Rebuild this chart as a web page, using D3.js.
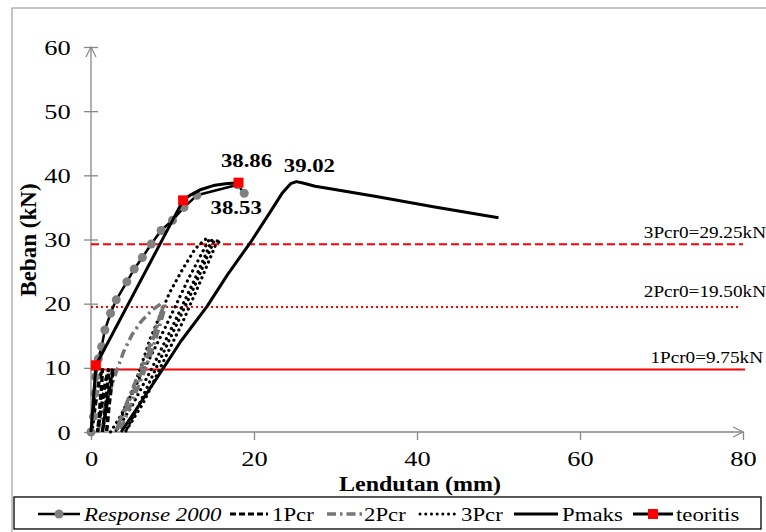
<!DOCTYPE html>
<html>
<head>
<meta charset="utf-8">
<script src="https://cdn.jsdelivr.net/npm/d3@7/dist/d3.min.js"></script>
<style>
html,body{margin:0;padding:0;background:#fff;}
svg{display:block;}
svg text{font-family:'Liberation Serif','Times New Roman',serif;}
</style>
</head>
<body>
<svg id="chart" width="766" height="532"></svg>
<script>
// ---------- data ----------
const xTicks = [0, 20, 40, 60, 80];
const yTicks = [0, 10, 20, 30, 40, 50, 60];
const xTitle = "Lendutan (mm)";
const yTitle = "Beban (kN)";

const response2000 = [[0,0],[0.3,2.4],[0.45,6],[0.55,8.6],[0.9,11.4],[1.3,13.3],[1.7,15.9],[2.4,18.5],[3.1,20.6],[4.4,23.4],[5.3,25.4],[6.3,27.2],[7.4,29.3],[8.6,31.4],[10,33],[11.4,35],[13,36.9],[18,38.53],[18.8,37.2]];
const pcr1 = [[0.1,0],[0.5,4],[1.0,8],[1.4,9.9],[1.3,7],[1.1,4],[0.9,1],[0.8,0],[1.3,4],[1.8,8],[2.2,9.9],[2.0,7],[1.8,4],[1.5,1],[1.4,0],[1.9,4],[2.4,8],[2.7,9.9],[2.5,7],[2.2,4],[2.0,1],[1.9,0]];
const pcr2 = [[0.8,0],[2,5],[3,9],[4,12.5],[5,15.1],[6.2,17.3],[7.5,19],[8.6,20],[8.8,19.6],[8.0,16],[7,12],[5.8,8],[4.4,4],[3.0,0],[4.2,4],[5.5,8],[6.8,12],[7.9,16],[9.0,20],[9.1,19.5],[8.3,16],[7.3,12],[6.1,8],[4.8,4],[3.5,0]];
const pcr3 = [[2.4,0],[3.6,2.4],[4.8,5.5],[6,9.7],[7.2,14.3],[8.4,18],[9.6,21.6],[11.3,25.5],[12.8,28.6],[14.2,30.2],
              [14.5,30],[12,24],[9,16],[6.6,10],[4.6,5],[3.0,0],
              [5,4],[7.5,10],[10.2,17],[12.8,24],[14.9,30.1],
              [15.1,29.8],[12.8,23],[10.6,17],[8.0,10],[5.8,4],[4.2,0],
              [6.4,4.5],[8.5,10],[11.2,17],[13.6,24],[15.6,30.1],[15.7,29.5],[15.3,29.3]];
const pmaks = [[3.7,0],[6,4.4],[8.9,10],[11,14.1],[14.2,19.5],[16.8,24.6],[19.7,29.8],[22,34.3],[23.5,37.3],[24.5,38.7],[25.2,39.02],[26,38.8],[27.5,38.3],[29,38],[35,36.7],[42,35.1],[50,33.4]];
const teoritisLine = [[0,0],[0.6,10.4],[11.3,36.1],[12.3,37.0],[13.5,37.8],[15,38.4],[16.5,38.7],[18.1,38.86]];
const teoritisPoints = [[0.6,10.4],[11.3,36.1],[18.1,38.86]];

const refValues = [9.75, 19.5, 29.25];
const refLabels = ["1Pcr0=9.75kN", "2Pcr0=19.50kN", "3Pcr0=29.25kN"];

const peakLabels = ["38.86", "39.02", "38.53"];
const peakPoints = [[18.1,38.86],[25.2,39.02],[18.8,37.2]];

const legendNames = ["Response 2000", "1Pcr", "2Pcr", "3Pcr", "Pmaks", "teoritis"];

// ---------- drawing ----------
const FONT = "'Liberation Serif', 'Times New Roman', serif";
const SX = 1.2; // horizontal stretch of the reference's text
const svg = d3.select("#chart");
const x = d3.scaleLinear().domain([0, 80]).range([91, 743]);
const y = d3.scaleLinear().domain([0, 60]).range([432, 47]);
const axisColor = "#878787";

function label(parent, px, py, txt, size, opts = {}) {
  const t = parent.append("text")
    .attr("transform", `translate(${px},${py}) scale(${SX},1)`)
    .attr("text-anchor", opts.anchor || "start")
    .style("font-family", FONT).style("font-size", size + "px").attr("fill", "#000")
    .text(txt);
  if (opts.bold) t.style("font-weight", "bold");
  if (opts.italic) t.style("font-style", "italic");
  return t;
}

// outer frame
svg.append("rect").attr("x", 12).attr("y", 8).attr("width", 770).attr("height", 540)
  .attr("fill", "none").attr("stroke", "#8c8c8c").attr("stroke-width", 1);

const defs = svg.append("defs");
defs.append("marker").attr("id", "arrow").attr("viewBox", "0 0 12 12")
  .attr("refX", 11).attr("refY", 6).attr("markerWidth", 12).attr("markerHeight", 12)
  .attr("markerUnits", "userSpaceOnUse").attr("orient", "auto")
  .append("path").attr("d", "M1,1 L11,6 L1,11").attr("fill", "none")
  .attr("stroke", axisColor).attr("stroke-width", 1.2);

// axes
const gx = svg.append("g").attr("transform", `translate(0,${y(0)})`)
  .call(d3.axisBottom(x).tickValues(xTicks).tickSize(8).tickSizeOuter(0).tickPadding(10));
const gy = svg.append("g").attr("transform", `translate(${x(0)},0)`)
  .call(d3.axisLeft(y).tickValues(yTicks).tickSize(7).tickSizeOuter(0).tickPadding(10));
[gx, gy].forEach(g => {
  g.attr("font-family", FONT).attr("font-size", 22);
  g.select(".domain").attr("stroke", axisColor).attr("stroke-width", 1.3).attr("marker-end", "url(#arrow)");
  g.selectAll(".tick line").attr("stroke", axisColor).attr("stroke-width", 1.3);
  g.selectAll(".tick text").attr("fill", "#000").style("font-family", FONT).style("font-size", "22px")
    .attr("transform", `scale(${SX},1)`);
});
gy.selectAll(".tick line").attr("x1", 7);
gx.select(".domain").attr("d", `M${x(0)},0H${x(80)}`);
gy.select(".domain").attr("d", `M0,${y(0)}V${y(60)}`);

// axis titles
label(svg, 420, 491, xTitle, 20, {anchor: "middle", bold: true});
svg.append("text").attr("transform", `translate(36,240) rotate(-90)`).attr("text-anchor", "middle")
  .style("font-family", FONT).style("font-size", "23px").style("font-weight", "bold").text(yTitle);

// reference lines
const refDash = ["none", "2,3", "8,4"];
const refEnd = [745, 740, 743];
const refGap = [6, 10, 6];
refValues.forEach((v, i) => {
  svg.append("line").attr("x1", x(0)).attr("x2", refEnd[i])
    .attr("y1", y(v)).attr("y2", y(v)).attr("stroke", "#ff0000")
    .attr("stroke-width", 2).attr("stroke-dasharray", refDash[i]);
  label(svg, i === 0 ? 763 : 766, y(v) - refGap[i], refLabels[i], 16, {anchor: "end"});
});

const line = d3.line().x(d => x(d[0])).y(d => y(d[1]));

// series
svg.append("path").attr("d", line(pcr3)).attr("fill", "none").attr("stroke", "#000")
  .attr("stroke-width", 3.2).attr("stroke-linecap", "round").attr("stroke-dasharray", "0.1,5.6");
svg.append("path").attr("d", line(pcr2)).attr("fill", "none").attr("stroke", "#767676")
  .attr("stroke-width", 3.5).attr("stroke-dasharray", "9,4,2.5,4");
svg.append("path").attr("d", line(pcr1)).attr("fill", "none").attr("stroke", "#000")
  .attr("stroke-width", 3.5).attr("stroke-dasharray", "6,3");
svg.append("path").attr("d", line(pmaks)).attr("fill", "none").attr("stroke", "#000")
  .attr("stroke-width", 3).attr("stroke-linejoin", "round");
svg.append("path").attr("d", line(response2000)).attr("fill", "none").attr("stroke", "#000")
  .attr("stroke-width", 2.5).attr("stroke-linejoin", "round");
svg.selectAll("circle.resp").data(response2000).enter().append("circle")
  .attr("cx", d => x(d[0])).attr("cy", d => y(d[1])).attr("r", 4.5).attr("fill", "#808080");
svg.append("path").attr("d", line(teoritisLine)).attr("fill", "none").attr("stroke", "#000")
  .attr("stroke-width", 3).attr("stroke-linejoin", "round");
svg.selectAll("rect.teo").data(teoritisPoints).enter().append("rect")
  .attr("x", d => x(d[0]) - 5).attr("y", d => y(d[1]) - 5).attr("width", 10).attr("height", 10)
  .attr("fill", "#ff0000");

// peak labels
const labelOffsets = [[8, -16], [13, -10], [-8, 21]];
peakLabels.forEach((t, i) => {
  label(svg, x(peakPoints[i][0]) + labelOffsets[i][0], y(peakPoints[i][1]) + labelOffsets[i][1],
    t, 19, {anchor: "middle", bold: true});
});

// legend
const lg = svg.append("g");
lg.append("rect").attr("x", 14).attr("y", 497).attr("width", 747).attr("height", 32)
  .attr("fill", "#fff").attr("stroke", "#000").attr("stroke-width", 1.3);
const ly = 514;
const sampleX = [[38, 80], [230, 268], [327, 365], [420, 456], [514, 558], [633, 673]];
const textX = [84, 272, 364, 461, 562, 676];
const sampleStyle = [
  {c: "#000", w: 2.5, d: "none"},
  {c: "#000", w: 3, d: "6,3"},
  {c: "#767676", w: 3.5, d: "9,4,2.5,4"},
  {c: "#000", w: 3, d: "0.1,5.6", cap: "round"},
  {c: "#000", w: 3, d: "none"},
  {c: "#000", w: 3, d: "none"}
];
legendNames.forEach((n, i) => {
  const s = sampleStyle[i];
  lg.append("line").attr("x1", sampleX[i][0]).attr("x2", sampleX[i][1]).attr("y1", ly).attr("y2", ly)
    .attr("stroke", s.c).attr("stroke-width", s.w).attr("stroke-dasharray", s.d)
    .attr("stroke-linecap", s.cap || "butt");
  if (i === 0) lg.append("circle").attr("cx", (sampleX[0][0] + sampleX[0][1]) / 2).attr("cy", ly).attr("r", 4.5).attr("fill", "#808080");
  if (i === 5) lg.append("rect").attr("x", (sampleX[5][0] + sampleX[5][1]) / 2 - 5).attr("y", ly - 5).attr("width", 10).attr("height", 10).attr("fill", "#ff0000");
  label(lg, textX[i], ly + 7, n, 19, {italic: i === 0});
});
</script>
</body>
</html>
